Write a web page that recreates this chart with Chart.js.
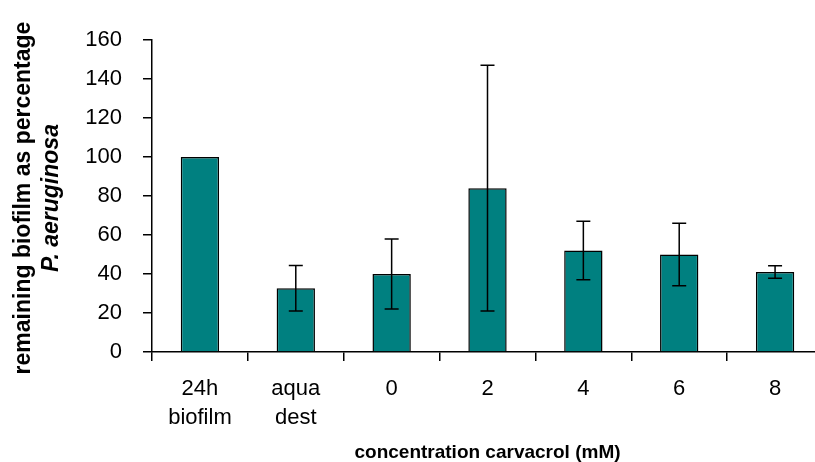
<!DOCTYPE html>
<html>
<head>
<meta charset="utf-8">
<script src="https://cdn.jsdelivr.net/npm/chart.js@4.4.1/dist/chart.umd.min.js"></script>
<style>
  html, body { margin: 0; padding: 0; background: #fff; overflow: hidden; }
  #wrap { width: 815px; height: 462px; overflow: hidden; }
</style>
</head>
<body>
<div id="wrap"><canvas id="chart" width="830" height="462"></canvas></div>
<script>
const categories = [["24h", "biofilm"], ["aqua", "dest"], "0", "2", "4", "6", "8"];
const biofilm = [100, 32.7, 40, 84, 52, 50, 41];
const errors = [0, 11.7, 18, 63, 15, 16, 3.2];
const yTicks = [0, 20, 40, 60, 80, 100, 120, 140, 160];

const FONT = "'Liberation Sans', Arial, sans-serif";

// error bars drawn on top of the bars, through the y scale
const errorBars = {
  id: "errorBars",
  afterDatasetsDraw(chart) {
    const ctx = chart.ctx;
    const y = chart.scales.y;
    const meta = chart.getDatasetMeta(0);
    ctx.save();
    ctx.strokeStyle = "#000";
    ctx.lineWidth = 1.5;
    meta.data.forEach((bar, i) => {
      const e = errors[i];
      if (!e) return;
      const top = y.getPixelForValue(biofilm[i] + e);
      const bot = y.getPixelForValue(biofilm[i] - e);
      ctx.beginPath();
      ctx.moveTo(bar.x, top);
      ctx.lineTo(bar.x, bot);
      ctx.moveTo(bar.x - 7, top);
      ctx.lineTo(bar.x + 7, top);
      ctx.moveTo(bar.x - 7, bot);
      ctx.lineTo(bar.x + 7, bot);
      ctx.stroke();
    });
    ctx.restore();
  }
};

// two-line y title, second line in italics
const yTitle = {
  id: "yTitle",
  afterDraw(chart) {
    const ctx = chart.ctx;
    const area = chart.chartArea;
    const cy = (area.top + area.bottom) / 2 + 2;
    ctx.save();
    ctx.fillStyle = "#000";
    ctx.textAlign = "center";
    ctx.textBaseline = "middle";
    ctx.translate(0, cy);
    ctx.rotate(-Math.PI / 2);
    ctx.font = "bold 23px " + FONT;
    ctx.fillText("remaining biofilm as percentage", 0, 24);
    ctx.font = "italic bold 23px " + FONT;
    ctx.fillText("P. aeruginosa", 0, 52);
    ctx.restore();
  }
};

new Chart(document.getElementById("chart"), {
  type: "bar",
  data: {
    labels: categories,
    datasets: [{
      data: biofilm,
      backgroundColor: "#008080",
      borderColor: "#000",
      borderWidth: 1.5,
      barPercentage: 0.4,
      categoryPercentage: 1
    }]
  },
  options: {
    responsive: false,
    animation: false,
    layout: { padding: { left: 0, right: 7, top: 40, bottom: 0 } },
    plugins: { legend: { display: false }, tooltip: { enabled: false } },
    scales: {
      x: {
        afterFit: s => { s.height = 110; },
        border: { color: "#000", width: 1.5 },
        grid: { offset: true, drawOnChartArea: false, drawTicks: true, tickLength: 9, color: "#000", lineWidth: 1.5 },
        ticks: { color: "#000", padding: 14, maxRotation: 0, font: { family: FONT, size: 22, lineHeight: 1.3 } },
        title: {
          display: true,
          text: "concentration carvacrol (mM)",
          color: "#000",
          padding: 0,
          font: { family: FONT, size: 19, weight: "bold", lineHeight: 1.0 }
        }
      },
      y: {
        min: 0,
        max: 160,
        afterFit: s => { s.width = 152; },
        afterBuildTicks: s => { s.ticks = yTicks.map(v => ({ value: v })); },
        border: { color: "#000", width: 1.5 },
        grid: { drawOnChartArea: false, drawTicks: true, tickLength: 9, color: "#000", lineWidth: 1.5 },
        ticks: { color: "#000", padding: 21, font: { family: FONT, size: 22 } }
      }
    }
  },
  plugins: [errorBars, yTitle]
});
</script>
</body>
</html>
